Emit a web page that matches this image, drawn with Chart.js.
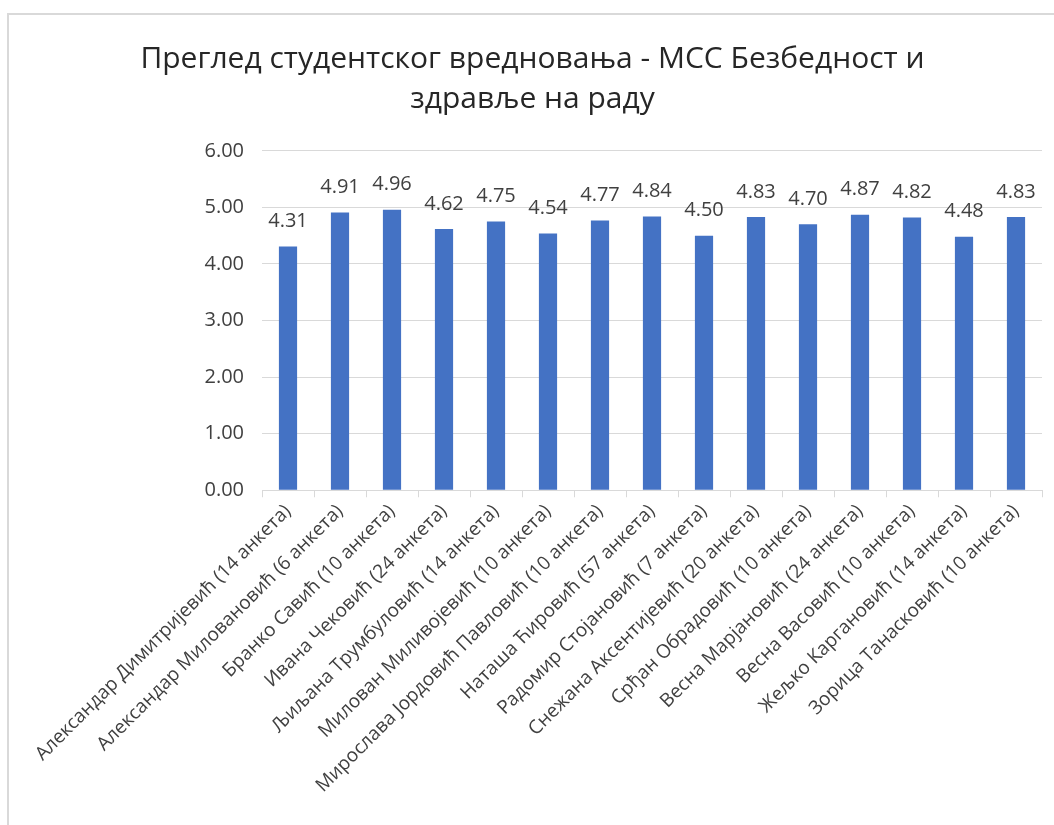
<!DOCTYPE html>
<html>
<head>
<meta charset="utf-8">
<script src="https://cdn.jsdelivr.net/npm/chart.js@4"></script>
<style>
  body { margin: 0; background: #fff; }
  #okvir {
    position: absolute; left: 7px; top: 13px;
    width: 1047px; height: 812px;
    border-left: 2px solid #d9d9d9; border-top: 2px solid #d9d9d9;
    box-sizing: border-box;
  }
</style>
</head>
<body>
<div id="okvir"><canvas id="grafik"></canvas></div>
<script>
const naslov = ["Преглед студентског вредновања - МСС Безбедност и", "здравље на раду"];

const nastavnici = [
  "Александар Димитријевић (14 анкета)",
  "Александар Миловановић (6 анкета)",
  "Бранко Савић (10 анкета)",
  "Ивана Чековић (24 анкета)",
  "Љиљана Трумбуловић (14 анкета)",
  "Милован Миливојевић (10 анкета)",
  "Мирослава Јордовић Павловић (10 анкета)",
  "Наташа Ћировић (57 анкета)",
  "Радомир Стојановић (7 анкета)",
  "Снежана Аксентијевић (20 анкета)",
  "Срђан Обрадовић (10 анкета)",
  "Весна Марјановић (24 анкета)",
  "Весна Васовић (10 анкета)",
  "Жељко Каргановић (14 анкета)",
  "Зорица Танасковић (10 анкета)"
];

const ocene = [4.31, 4.91, 4.96, 4.62, 4.75, 4.54, 4.77, 4.84, 4.50, 4.83, 4.70, 4.87, 4.82, 4.48, 4.83];

const yMin = 0;
const yMax = 6;
const yKorak = 1;

// ispis vrednosti iznad stubica
const oznakeVrednosti = {
  id: "oznakeVrednosti",
  afterDatasetsDraw(chart) {
    const ctx = chart.ctx;
    const meta = chart.getDatasetMeta(0);
    ctx.save();
    ctx.font = "20px 'Open Sans'";
    ctx.fillStyle = "#404040";
    ctx.textAlign = "center";
    ctx.textBaseline = "middle";
    meta.data.forEach((bar, i) => {
      ctx.fillText(ocene[i].toFixed(2), bar.x, bar.y - 25);
    });
    ctx.restore();
  }
};

const ctx = document.getElementById("grafik").getContext("2d");

new Chart(ctx, {
  type: "bar",
  data: {
    labels: nastavnici,
    datasets: [{
      data: ocene,
      backgroundColor: "#4472C4",
      barPercentage: 0.7,
      categoryPercentage: 0.5
    }]
  },
  plugins: [oznakeVrednosti],
  options: {
    responsive: true,
    maintainAspectRatio: false,
    animation: false,
    layout: { padding: { left: 14, right: 12, top: 10, bottom: 25 } },
    plugins: {
      legend: { display: false },
      tooltip: { enabled: false },
      title: {
        display: true,
        text: naslov,
        color: "#262626",
        font: { family: "'Open Sans'", size: 30, weight: "normal", lineHeight: 1.33 },
        padding: { top: 15, bottom: 31 }
      }
    },
    scales: {
      x: {
        grid: {
          offset: true,
          drawOnChartArea: false,
          color: "#d9d9d9",
          tickLength: 7
        },
        border: { color: "#d9d9d9" },
        ticks: {
          color: "#404040",
          font: { family: "'Open Sans'", size: 19 },
          maxRotation: 45,
          minRotation: 45,
          autoSkip: false
        }
      },
      y: {
        min: yMin,
        max: yMax,
        afterFit: s => { s.width = 239; },
        grid: { color: "#d9d9d9", drawTicks: false },
        border: { display: false },
        ticks: {
          stepSize: yKorak,
          padding: 18,
          color: "#404040",
          font: { family: "'Open Sans'", size: 20 },
          callback: v => Number(v).toFixed(2)
        }
      }
    }
  }
});
</script>
</body>
</html>
